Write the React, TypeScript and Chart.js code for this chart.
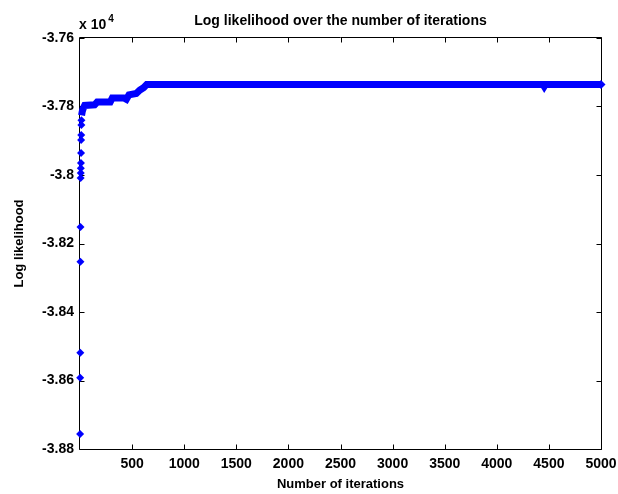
import React, { useEffect, useRef } from 'react';
import { Chart, registerables } from 'chart.js';

Chart.register(...registerables);

// Early, widely scattered iterations (all sit on the left edge)
const earlyIterations = [1, 2, 3, 4, 5, 6, 7, 8, 9, 10, 11, 12, 13, 14];
const earlyLogLikelihood = [
  -38756, -38592, -38519, -38253, -38152, -38009, -37994, -37980, -37965,
  -37936, -37898, -37883, -37854, -37840,
];

// Dense run of iterations (markers overlap into a continuous band)
const runIterations = [
  15, 22, 32, 45, 140, 165, 290, 310, 420, 445, 470, 540, 575, 610, 640,
  4445, 4455, 4465, 5000,
];
const runLogLikelihood = [
  -37826, -37814, -37805, -37797, -37795, -37787, -37787, -37775, -37775,
  -37779, -37766, -37762, -37752, -37745, -37736, -37736, -37741, -37736,
  -37736,
];

const xTickValues = [500, 1000, 1500, 2000, 2500, 3000, 3500, 4000, 4500, 5000];
const yTickValues = [-38800, -38600, -38400, -38200, -38000, -37800, -37600];

const chartTitle = 'Log likelihood over the number of iterations';
const xTitle = 'Number of iterations';
const yTitle = 'Log likelihood';
const exponentBase = 'x 10';
const exponentPower = '4';

const FONT = '"Liberation Sans", Arial, Helvetica, sans-serif';
const BLUE = '#0000ff';

const framePlugin = {
  id: 'matlabFrame',
  beforeDatasetsDraw(chart: any) {
    const { ctx, chartArea, scales } = chart;
    const { left, right, top, bottom } = chartArea;
    const x = scales.x;
    const y = scales.y;
    ctx.save();
    ctx.strokeStyle = '#000';
    ctx.lineWidth = 1;
    const L = Math.round(left) - 0.5;
    const R = Math.round(right) + 0.5;
    const T = Math.round(top) - 0.5;
    const B = Math.round(bottom) + 0.5;
    ctx.beginPath();
    ctx.rect(L, T, R - L, B - T);
    ctx.stroke();
    const tl = 5;
    ctx.beginPath();
    xTickValues.forEach((v) => {
      const px = Math.round(x.getPixelForValue(v)) + 0.5;
      ctx.moveTo(px, B);
      ctx.lineTo(px, B - tl);
      ctx.moveTo(px, T);
      ctx.lineTo(px, T + tl);
    });
    yTickValues.forEach((v) => {
      const py = Math.round(y.getPixelForValue(v)) + 0.5;
      ctx.moveTo(L, py);
      ctx.lineTo(L + tl, py);
      ctx.moveTo(R, py);
      ctx.lineTo(R - tl, py);
    });
    ctx.stroke();
    ctx.restore();
  },
  afterDraw(chart: any) {
    const { ctx, chartArea } = chart;
    const { left, right, top } = chartArea;
    ctx.save();
    ctx.fillStyle = '#000';
    ctx.font = `bold 14px ${FONT}`;
    ctx.textAlign = 'center';
    ctx.textBaseline = 'alphabetic';
    ctx.fillText(chartTitle, (left + right) / 2, 25);
    ctx.textAlign = 'left';
    ctx.font = `bold 14px ${FONT}`;
    ctx.fillText(exponentBase, left - 1, top - 9);
    const w = ctx.measureText(exponentBase).width;
    ctx.font = `bold 10px ${FONT}`;
    ctx.fillText(exponentPower, left + w + 1, top - 16);
    ctx.restore();
  },
};

export default function App() {
  const canvasRef = useRef<HTMLCanvasElement | null>(null);

  useEffect(() => {
    const canvas = canvasRef.current;
    if (!canvas) return;
    const chart = new Chart(canvas, {
      type: 'line',
      data: {
        datasets: [
          {
            label: 'early',
            data: earlyIterations.map((it, i) => ({ x: it, y: earlyLogLikelihood[i] })),
            showLine: false,
            pointStyle: 'rectRot',
            pointRadius: 4,
            pointBackgroundColor: BLUE,
            pointBorderColor: BLUE,
            pointBorderWidth: 0,
            clip: false as any,
          },
          {
            label: 'run',
            data: runIterations.map((it, i) => ({ x: it, y: runLogLikelihood[i] })),
            showLine: true,
            borderColor: BLUE,
            borderWidth: 7,
            tension: 0,
            pointStyle: 'rectRot',
            pointRadius: (c: any) => (c.dataIndex === runIterations.length - 1 ? 4.5 : 0),
            pointBackgroundColor: BLUE,
            pointBorderColor: BLUE,
            pointBorderWidth: 0,
            clip: false as any,
          },
        ],
      },
      options: {
        responsive: false,
        animation: false,
        events: [],
        layout: { padding: { top: 38, right: 17, left: 0, bottom: 0 } },
        plugins: {
          legend: { display: false },
          tooltip: { enabled: false },
          title: { display: false },
        },
        scales: {
          x: {
            type: 'linear',
            min: 0,
            max: 5000,
            afterBuildTicks: (s: any) => {
              s.ticks = xTickValues.map((v) => ({ value: v }));
            },
            afterFit: (s: any) => {
              s.height = 45;
              s.paddingRight = 0;
              s.paddingLeft = 0;
            },
            grid: { display: false, drawTicks: false },
            border: { display: false },
            ticks: {
              color: '#000',
              font: { family: FONT, size: 14, weight: 'bold' },
              padding: 7,
              maxRotation: 0,
              autoSkip: false,
              callback: (v: any) => String(v),
            },
            title: {
              display: true,
              text: xTitle,
              color: '#000',
              font: { family: FONT, size: 13, weight: 'bold' },
              padding: { top: 0, bottom: 2 },
            },
          },
          y: {
            type: 'linear',
            min: -38800,
            max: -37600,
            afterBuildTicks: (s: any) => {
              s.ticks = yTickValues.map((v) => ({ value: v }));
            },
            afterFit: (s: any) => {
              s.width = 80;
              s.paddingTop = 0;
              s.paddingBottom = 0;
            },
            grid: { display: false, drawTicks: false },
            border: { display: false },
            ticks: {
              color: '#000',
              font: { family: FONT, size: 14, weight: 'bold' },
              padding: 6,
              autoSkip: false,
              callback: (v: any) => String(Number((Number(v) / 10000).toFixed(2))),
            },
            title: {
              display: true,
              text: yTitle,
              color: '#000',
              font: { family: FONT, size: 13, weight: 'bold' },
              padding: { top: 12, bottom: 0 },
            },
          },
        },
      },
      plugins: [framePlugin],
    });
    return () => chart.destroy();
  }, []);

  return (
    <div style={{ position: 'absolute', left: 0, top: 0, width: 618, height: 494, background: '#fff' }}>
      <canvas ref={canvasRef} width={618} height={494} style={{ display: 'block' }} />
    </div>
  );
}
